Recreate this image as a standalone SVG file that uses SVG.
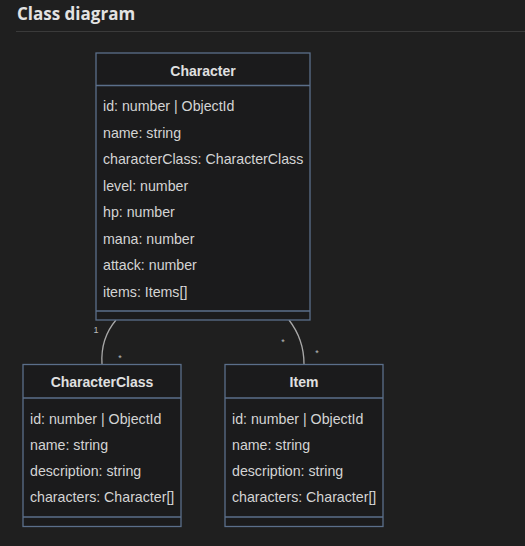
<svg xmlns="http://www.w3.org/2000/svg" width="525" height="546" viewBox="0 0 525 546">
<style>
.box{fill:#1b1b1c;stroke:#5b6f8a;stroke-width:1.3}
.div{stroke:#5b6f8a;stroke-width:1.3}
.t{font-family:"Liberation Sans",Arial,sans-serif;font-size:14.2px;fill:#d4d4d4}
.h{font-family:"Liberation Sans",Arial,sans-serif;font-size:14px;font-weight:bold;fill:#e0e0e0;text-anchor:middle}
.lbl{font-family:"Liberation Sans",Arial,sans-serif;font-size:9px;fill:#bbbbbb;text-anchor:middle}
.edge{fill:none;stroke:#a8a8a8;stroke-width:1.3}
</style>
<rect width="525" height="546" fill="#1f1f1f"/>
<text x="17" y="20" font-family="'Open Sans','DejaVu Sans',sans-serif" font-size="17" font-weight="bold" fill="#e2e2e2">Class diagram</text>
<line x1="16" y1="31.5" x2="525" y2="31.5" stroke="#3a3a3a" stroke-width="1"/>
<g id="connectors">
<path class="edge" d="M116,320 C105,333 101,348 102,364"/>
<path class="edge" d="M289,320 C299,333 304,348 304,364"/>
<text class="lbl" x="96" y="333">1</text>
<text class="lbl" x="120" y="361">*</text>
<text class="lbl" x="283" y="345">*</text>
<text class="lbl" x="317" y="356">*</text>
</g>
<g id="Character">
<rect class="box" x="96" y="53" width="214" height="267"/>
<line class="div" x1="96" y1="85.5" x2="310" y2="85.5"/>
<line class="div" x1="96" y1="311" x2="310" y2="311"/>
<text class="h" x="203" y="76">Character</text>
<text class="t" x="103" y="111">id: number | ObjectId</text>
<text class="t" x="103" y="138">name: string</text>
<text class="t" x="103" y="164">characterClass: CharacterClass</text>
<text class="t" x="103" y="191">level: number</text>
<text class="t" x="103" y="217">hp: number</text>
<text class="t" x="103" y="244">mana: number</text>
<text class="t" x="103" y="270">attack: number</text>
<text class="t" x="103" y="297">items: Items[]</text>
</g>
<g id="CharacterClass">
<rect class="box" x="23" y="364.5" width="158" height="162"/>
<line class="div" x1="23" y1="398" x2="181" y2="398"/>
<line class="div" x1="23" y1="517" x2="181" y2="517"/>
<text class="h" x="102" y="387">CharacterClass</text>
<text class="t" x="30" y="424">id: number | ObjectId</text>
<text class="t" x="30" y="450">name: string</text>
<text class="t" x="30" y="476">description: string</text>
<text class="t" x="30" y="502">characters: Character[]</text>
</g>
<g id="Item">
<rect class="box" x="225" y="364.5" width="158" height="162"/>
<line class="div" x1="225" y1="398" x2="383" y2="398"/>
<line class="div" x1="225" y1="517" x2="383" y2="517"/>
<text class="h" x="304" y="387">Item</text>
<text class="t" x="232" y="424">id: number | ObjectId</text>
<text class="t" x="232" y="450">name: string</text>
<text class="t" x="232" y="476">description: string</text>
<text class="t" x="232" y="502">characters: Character[]</text>
</g>
</svg>
